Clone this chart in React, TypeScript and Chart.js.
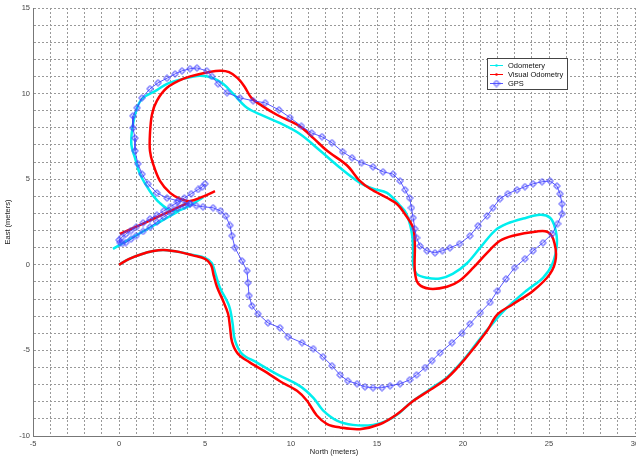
import { useEffect, useRef } from "react";
import { Chart, registerables } from "chart.js";

Chart.register(...registerables);

// ---- data (meters) ----
const xTickValues = [-5, 0, 5, 10, 15, 20, 25, 30];
const yTickValues = [-10, -5, 0, 5, 10, 15];

const seriesNames = ["Odometery", "Visual Odometry", "GPS"];

// Visual odometry: main trajectory
const visualOdometry: [number, number][] = [
  [0, 0], [0.6, 0.35], [1.3, 0.62], [2.0, 0.8], [2.6, 0.86], [3.55, 0.74], [4.3, 0.55], [5.0, 0.35],
  [5.35, 0.0], [5.5, -0.6], [5.7, -1.3], [6.05, -2.1], [6.34, -2.86], [6.45, -3.6], [6.57, -4.5],
  [6.92, -5.2], [7.6, -5.7], [8.6, -6.3], [9.36, -6.8], [10.35, -7.36], [10.93, -7.94], [11.5, -8.8],
  [12.1, -9.3], [12.85, -9.5], [14.0, -9.6], [15.2, -9.3], [16.2, -8.7], [17.1, -7.95], [18.1, -7.3],
  [19.1, -6.6], [20.2, -5.4], [21.4, -3.85], [22.0, -2.9], [22.9, -2.3], [24.1, -1.5], [25.06, -0.53],
  [25.4, 0.4], [25.25, 1.5], [24.9, 1.93], [24.3, 1.95], [22.9, 1.7], [22.15, 1.4], [21.4, 0.7],
  [20.6, -0.17], [19.8, -0.93], [19.07, -1.28], [18.08, -1.4], [17.4, -1.1], [17.2, -0.35], [17.2, 1.23],
  [17.1, 2.16], [16.6, 3.0], [16.16, 3.55], [15.6, 3.9], [14.6, 4.44], [14.0, 4.9], [13.26, 5.8],
  [12.1, 6.66], [11.3, 7.4], [10.5, 8.1], [9.2, 8.75], [8.3, 9.3], [7.7, 9.75], [7.3, 10.4],
  [6.9, 10.9], [6.4, 11.25], [5.87, 11.33], [4.7, 11.15], [3.72, 10.86], [2.79, 10.34], [2.2, 9.58],
  [1.92, 8.8], [1.8, 7.65], [1.8, 6.66], [1.98, 5.9], [2.38, 4.9], [2.97, 4.2], [3.55, 3.85],
  [4.13, 3.72], [4.8, 3.95], [5.58, 4.3],
];
// Visual odometry: short straight segment near the start
const visualOdometryTail: [number, number][] = [
  [0.06, 1.8], [1.5, 2.45], [3.0, 3.15], [4.0, 3.62],
];

// Wheel odometry
const odometry: [number, number][] = [
  [0, 0], [0.6, 0.35], [1.3, 0.62], [2.0, 0.8], [2.6, 0.86], [3.55, 0.74], [4.3, 0.57], [5.0, 0.4],
  [5.4, 0.1], [5.6, -0.5], [5.87, -1.34], [6.4, -2.4], [6.6, -3.4], [6.74, -4.4], [7.15, -5.2],
  [8.0, -5.7], [9.2, -6.4], [10.5, -7.07], [11.3, -7.77], [11.86, -8.5], [12.67, -9.1], [13.6, -9.35],
  [14.77, -9.35], [15.58, -9.1], [16.3, -8.65], [16.9, -8.1], [18.1, -7.25], [19.1, -6.55],
  [20.2, -5.35], [21.0, -4.3], [21.7, -3.45], [22.56, -2.5], [23.7, -1.5], [24.65, -0.76],
  [25.2, 0.06], [25.46, 1.23], [25.35, 2.16], [25.06, 2.75], [24.5, 2.92], [23.5, 2.7], [22.56, 2.4],
  [21.86, 2.0], [21.0, 1.0], [20.2, 0.06], [19.4, -0.53], [18.66, -0.8], [17.9, -0.76], [17.3, -0.53],
  [17.1, 0.06], [17.1, 1.0], [17.0, 2.0], [16.7, 3.0], [16.3, 3.5], [15.58, 4.2], [14.77, 4.44],
  [14.0, 4.8], [12.85, 5.67], [11.7, 6.66], [10.5, 7.65], [9.3, 8.3], [8.4, 8.7], [7.44, 9.17],
  [6.63, 10.0], [6.05, 10.57], [5.47, 10.9], [4.7, 11.04], [3.72, 10.86], [2.79, 10.57], [2.2, 10.2],
  [1.4, 9.75], [1.05, 9.17], [0.78, 8.0], [0.72, 7.0], [0.93, 6.25], [1.22, 5.3], [1.8, 4.3],
  [2.38, 3.6], [3.08, 3.15], [3.8, 3.3], [4.9, 3.95],
];
const odometryTail: [number, number][] = [
  [-0.35, 0.93], [1.0, 1.72], [2.4, 2.52], [3.5, 3.15],
];

// GPS fixes
const gps: [number, number][] = [
  [5.0, 4.73], [4.85, 4.55], [4.6, 4.4], [4.2, 4.15], [3.8, 3.9], [3.4, 3.65], [3.0, 3.4], [2.6, 3.15],
  [2.2, 2.9], [1.8, 2.68], [1.4, 2.45], [1.0, 2.2], [0.7, 2.0], [0.4, 1.8], [0.15, 1.6], [0.0, 1.45],
  [0.05, 1.3], [0.2, 1.25], [0.4, 1.3], [0.7, 1.5], [1.0, 1.7], [1.4, 1.95], [1.8, 2.2], [2.2, 2.5],
  [2.6, 2.8], [3.0, 3.05], [3.4, 3.3], [3.8, 3.45], [4.13, 3.56], [4.5, 3.45], [4.88, 3.39],
  [5.47, 3.33], [5.9, 3.15], [6.2, 2.85], [6.45, 2.3], [6.57, 1.7], [6.74, 1.0], [7.15, 0.23],
  [7.44, -0.35], [7.5, -1.05], [7.56, -1.8], [7.73, -2.4], [8.08, -2.86], [8.66, -3.39],
  [9.36, -3.68], [9.83, -4.2], [10.64, -4.55], [11.3, -4.9], [11.86, -5.37], [12.38, -5.9],
  [12.85, -6.43], [13.3, -6.78], [13.84, -6.95], [14.3, -7.13], [14.77, -7.18], [15.29, -7.18],
  [15.76, -7.07], [16.34, -6.95], [16.9, -6.72], [17.3, -6.43], [17.8, -6.0], [18.2, -5.6],
  [18.66, -5.14], [19.36, -4.55], [19.94, -4.0], [20.4, -3.45], [21.0, -2.8], [21.57, -2.2],
  [22.0, -1.52], [22.5, -0.82], [23.0, -0.17], [23.6, 0.35], [24.07, 0.82], [24.65, 1.29],
  [25.17, 1.8], [25.5, 2.4], [25.76, 2.98], [25.76, 3.56], [25.64, 4.15], [25.46, 4.6], [25.06, 4.9],
  [24.6, 4.85], [24.07, 4.73], [23.6, 4.56], [23.14, 4.38], [22.6, 4.15], [22.15, 3.86], [21.74, 3.33],
  [21.4, 2.86], [20.87, 2.28], [20.4, 1.69], [19.8, 1.23], [19.24, 0.99], [18.8, 0.82], [18.37, 0.7],
  [17.9, 0.82], [17.5, 1.1], [17.3, 1.58], [17.2, 2.1], [17.1, 2.75], [17.0, 3.33], [16.9, 3.9],
  [16.63, 4.38], [16.34, 4.9], [15.93, 5.3], [15.35, 5.43], [14.77, 5.72], [14.1, 5.96], [13.55, 6.25],
  [13.0, 6.6], [12.38, 7.13], [11.8, 7.48], [11.2, 7.7], [10.6, 8.1], [9.94, 8.6], [9.3, 9.05],
  [8.5, 9.46], [7.8, 9.58], [7.03, 9.75], [6.28, 10.05], [5.76, 10.57], [5.4, 11.0], [5.1, 11.33],
  [4.53, 11.5], [4.13, 11.45], [3.66, 11.33], [3.26, 11.15], [2.79, 10.9], [2.27, 10.63], [1.8, 10.28],
  [1.33, 9.75], [1.05, 9.17], [0.81, 8.7], [0.81, 8.0], [0.93, 7.4], [0.93, 6.66], [1.1, 5.9],
  [1.34, 5.3], [1.69, 4.73], [2.2, 4.2], [2.79, 3.9], [3.43, 3.74], [4.13, 3.56],
];

// ---- styles ----
const CYAN = "rgb(0,238,238)";
const RED = "rgb(255,0,0)";
const BLUE = "rgba(60,60,255,0.85)";
const FONT = "'Liberation Sans', Arial, sans-serif";

const toPoints = (arr: [number, number][]) => arr.map(([x, y]) => ({ x, y }));
const joinParts = (...parts: [number, number][][]) => {
  const out: { x: number; y: number | null }[] = [];
  parts.forEach((p, i) => {
    if (i > 0) out.push({ x: p[0][0], y: null });
    out.push(...toPoints(p));
  });
  return out;
};

function makeMarker(): HTMLCanvasElement {
  const c = document.createElement("canvas");
  c.width = 8;
  c.height = 8;
  const g = c.getContext("2d")!;
  g.strokeStyle = "rgba(70,70,255,0.8)";
  g.lineWidth = 0.9;
  g.beginPath();
  g.moveTo(4, 0.5);
  g.lineTo(7.5, 4);
  g.lineTo(4, 7.5);
  g.lineTo(0.5, 4);
  g.closePath();
  g.stroke();
  g.beginPath();
  g.arc(4, 4, 2.2, 0, Math.PI * 2);
  g.stroke();
  return c;
}

const legendPlugin = {
  id: "insideLegend",
  afterDraw(chart: any) {
    const ctx: CanvasRenderingContext2D = chart.ctx;
    const marker = chart.$gpsMarker as HTMLCanvasElement;
    const bx = 487.5, by = 58.5, bw = 80, bh = 31;
    ctx.save();
    ctx.fillStyle = "#ffffff";
    ctx.fillRect(bx, by, bw, bh);
    ctx.strokeStyle = "#444";
    ctx.lineWidth = 1;
    ctx.strokeRect(bx, by, bw, bh);
    const colors = [CYAN, RED, BLUE];
    const rows = [65, 74, 83];
    ctx.font = `7.5px ${FONT}`;
    ctx.textBaseline = "middle";
    rows.forEach((ry, i) => {
      ctx.strokeStyle = colors[i];
      ctx.lineWidth = 1;
      ctx.beginPath();
      ctx.moveTo(490, ry + 0.5);
      ctx.lineTo(503, ry + 0.5);
      ctx.stroke();
      if (i < 2) {
        ctx.fillStyle = colors[i];
        ctx.beginPath();
        ctx.arc(496.5, ry + 0.5, 1.3, 0, Math.PI * 2);
        ctx.fill();
      } else if (marker) {
        ctx.drawImage(marker, 496.5 - 4, ry + 0.5 - 4);
      }
      ctx.fillStyle = "#111";
      ctx.fillText(seriesNames[i], 508, ry + 0.5);
    });
    ctx.restore();
  },
};

export default function App() {
  const ref = useRef<HTMLCanvasElement | null>(null);

  useEffect(() => {
    if (!ref.current) return;
    const marker = makeMarker();
    const tickCb = (v: any) => {
      const r = Math.round(Number(v));
      return Math.abs(Number(v) - r) < 1e-6 && r % 5 === 0 ? String(r) : "";
    };
    const gridCommon = {
      color: "#999",
      lineWidth: 1,
      drawTicks: false,
    };
    const chart = new Chart(ref.current, {
      type: "scatter",
      data: {
        datasets: [
          {
            label: seriesNames[2],
            data: toPoints(gps),
            showLine: true,
            borderColor: BLUE,
            borderWidth: 1,
            tension: 0,
            pointStyle: marker as any,
            pointRadius: 4,
            pointHoverRadius: 4,
            order: 0,
          },
          {
            label: seriesNames[1],
            data: joinParts(visualOdometry, visualOdometryTail) as any,
            showLine: true,
            borderColor: RED,
            borderWidth: 2.5,
            tension: 0.35,
            pointRadius: 0,
            spanGaps: false,
            order: 1,
          },
          {
            label: seriesNames[0],
            data: joinParts(odometry, odometryTail) as any,
            showLine: true,
            borderColor: CYAN,
            borderWidth: 2.5,
            tension: 0.35,
            pointRadius: 0,
            spanGaps: false,
            order: 2,
          },
        ],
      },
      options: {
        animation: false,
        responsive: false,
        events: [],
        layout: { padding: { top: 8, right: 25, left: 0, bottom: 0 } },
        plugins: {
          legend: { display: false },
          tooltip: { enabled: false },
        },
        scales: {
          x: {
            type: "linear",
            min: xTickValues[0],
            max: xTickValues[xTickValues.length - 1],
            grid: gridCommon,
            border: { display: true, color: "#777", width: 1, dash: [2, 2] },
            ticks: {
              stepSize: 1,
              autoSkip: false,
              maxRotation: 0,
              padding: 3,
              color: "#444",
              font: { family: FONT, size: 7.5 },
              callback: tickCb,
            },
            title: {
              display: true,
              text: "North (meters)",
              color: "#222",
              font: { family: FONT, size: 7.5 },
              padding: { top: 0, bottom: 3.5 },
            },
            afterFit: (s: any) => {
              s.height = 24;
            },
          } as any,
          y: {
            type: "linear",
            min: yTickValues[0],
            max: yTickValues[yTickValues.length - 1],
            grid: gridCommon,
            border: { display: true, color: "#777", width: 1, dash: [2, 2] },
            ticks: {
              stepSize: 1,
              autoSkip: false,
              padding: 3,
              color: "#444",
              font: { family: FONT, size: 7.5 },
              callback: tickCb,
            },
            title: {
              display: true,
              text: "East (meters)",
              color: "#222",
              font: { family: FONT, size: 7.5 },
              padding: { top: 3.5, bottom: 0 },
            },
            afterFit: (s: any) => {
              s.width = 33;
            },
          } as any,
        },
      },
      plugins: [legendPlugin],
    });
    (chart as any).$gpsMarker = marker;
    chart.draw();
    return () => chart.destroy();
  }, []);

  return (
    <div
      style={{
        position: "fixed",
        left: 0,
        top: 0,
        width: 636,
        height: 460,
        overflow: "hidden",
        background: "#fff",
      }}
    >
      <canvas ref={ref} width={660} height={460} style={{ display: "block" }} />
    </div>
  );
}
